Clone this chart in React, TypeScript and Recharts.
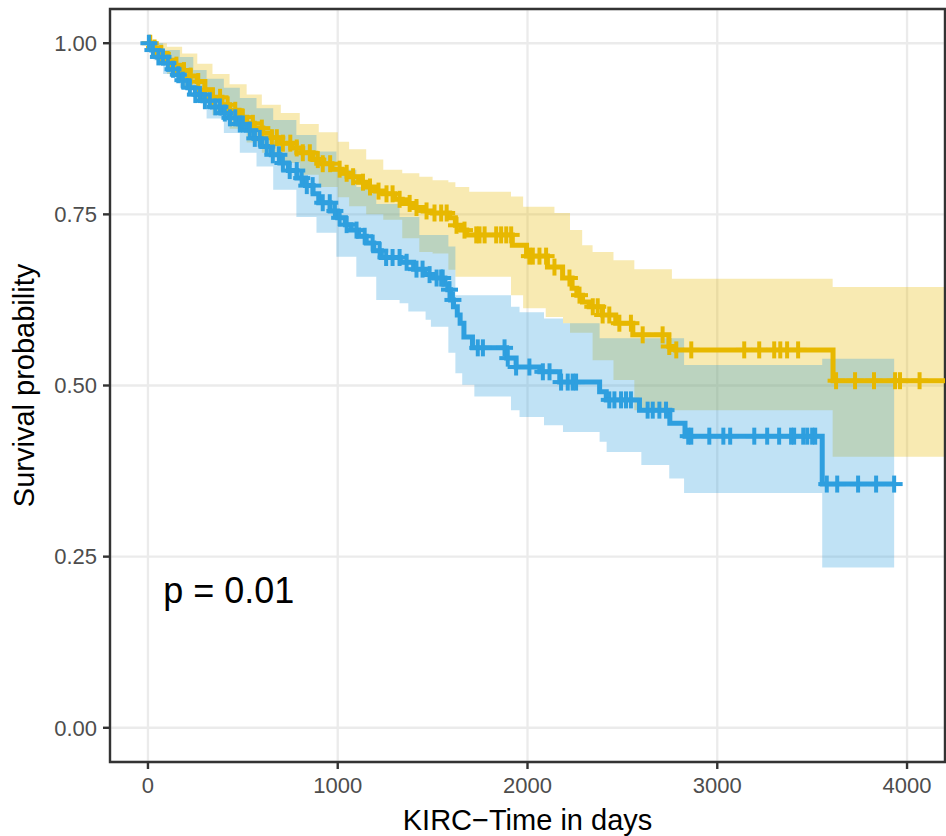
import React from 'react'
import {
  Area,
  CartesianGrid,
  ComposedChart,
  Line,
  ReferenceArea,
  Scatter,
  XAxis,
  YAxis,
} from 'recharts'

const FONT = '"Liberation Sans", Arial, Helvetica, sans-serif'
const GOLD = '#E7B800'
const BLUE = '#2E9FDF'

// Kaplan-Meier steps: [time, survival]
const goldCurve = [
  [0, 1.0], [25, 0.993], [60, 0.985], [100, 0.975], [140, 0.968], [180, 0.96],
  [220, 0.952], [260, 0.944], [300, 0.932], [340, 0.921], [390, 0.91], [430, 0.902],
  [480, 0.892], [520, 0.883], [560, 0.876], [605, 0.869], [650, 0.862], [700, 0.854],
  [760, 0.847], [810, 0.84], [870, 0.83], [920, 0.824], [970, 0.816], [1020, 0.81],
  [1060, 0.805], [1110, 0.797], [1150, 0.79], [1200, 0.784], [1240, 0.78], [1300, 0.772],
  [1340, 0.766], [1400, 0.76], [1450, 0.755], [1500, 0.752], [1590, 0.745], [1620, 0.734],
  [1650, 0.727], [1680, 0.72], [1920, 0.705], [1995, 0.689], [2105, 0.673], [2185, 0.657],
  [2235, 0.642], [2260, 0.632], [2290, 0.622], [2325, 0.615], [2395, 0.603], [2465, 0.591],
  [2555, 0.574], [2745, 0.557], [2780, 0.552], [3610, 0.507], [4200, 0.507],
]

const blueCurve = [
  [0, 1.0], [20, 0.99], [50, 0.98], [80, 0.971], [110, 0.962], [140, 0.954],
  [170, 0.946], [210, 0.935], [250, 0.925], [290, 0.916], [340, 0.907], [390, 0.898],
  [430, 0.891], [480, 0.882], [520, 0.873], [560, 0.861], [600, 0.849], [650, 0.837],
  [695, 0.825], [740, 0.814], [785, 0.803], [830, 0.792], [870, 0.78], [900, 0.767],
  [960, 0.755], [1000, 0.745], [1040, 0.735], [1070, 0.727], [1110, 0.718], [1150, 0.708],
  [1190, 0.697], [1230, 0.687], [1330, 0.68], [1400, 0.67], [1460, 0.662], [1510, 0.657],
  [1565, 0.648], [1580, 0.64], [1595, 0.625], [1610, 0.615], [1630, 0.603], [1645, 0.591],
  [1665, 0.571], [1710, 0.555], [1890, 0.54], [1940, 0.527], [2065, 0.52], [2170, 0.505],
  [2380, 0.491], [2415, 0.479], [2590, 0.464], [2750, 0.445], [2830, 0.426], [3553, 0.356],
  [3932, 0.356],
]

// confidence bands: [time, lower, upper]
const goldBand = [
  [0, 1, 1], [40, 0.975, 1.0], [100, 0.955, 0.995], [180, 0.935, 0.985], [260, 0.915, 0.97],
  [340, 0.895, 0.955], [430, 0.875, 0.94], [520, 0.855, 0.925], [600, 0.84, 0.91],
  [700, 0.825, 0.898], [800, 0.808, 0.882], [900, 0.79, 0.87], [1000, 0.775, 0.856],
  [1060, 0.762, 0.845], [1150, 0.75, 0.83], [1240, 0.742, 0.815], [1340, 0.715, 0.81],
  [1430, 0.695, 0.805], [1500, 0.693, 0.8], [1583, 0.669, 0.797], [1620, 0.659, 0.79],
  [1693, 0.659, 0.783], [1913, 0.632, 0.776], [1977, 0.613, 0.761], [2096, 0.6, 0.761],
  [2142, 0.6, 0.752], [2187, 0.591, 0.752], [2224, 0.577, 0.727], [2288, 0.577, 0.705],
  [2343, 0.537, 0.695], [2453, 0.508, 0.683], [2563, 0.464, 0.67], [2761, 0.464, 0.656],
  [3608, 0.396, 0.644], [4200, 0.396, 0.644],
]

const blueBand = [
  [0, 1, 1], [30, 0.975, 1.0], [80, 0.955, 0.99], [168, 0.935, 0.98], [239, 0.913, 0.961],
  [309, 0.89, 0.948], [400, 0.869, 0.935], [484, 0.84, 0.92], [572, 0.82, 0.905],
  [660, 0.786, 0.888], [782, 0.746, 0.866], [888, 0.723, 0.842], [993, 0.688, 0.815],
  [1098, 0.659, 0.79], [1203, 0.625, 0.765], [1326, 0.62, 0.746], [1372, 0.608, 0.746],
  [1430, 0.608, 0.72], [1463, 0.596, 0.72], [1491, 0.586, 0.72], [1583, 0.548, 0.703],
  [1620, 0.518, 0.632], [1656, 0.501, 0.632], [1720, 0.484, 0.632], [1913, 0.464, 0.615],
  [1958, 0.454, 0.607], [2087, 0.442, 0.598], [2187, 0.432, 0.591], [2380, 0.418, 0.569],
  [2417, 0.403, 0.569], [2600, 0.384, 0.569], [2747, 0.364, 0.569], [2825, 0.343, 0.53],
  [3553, 0.234, 0.539], [3932, 0.234, 0.539],
]

// censoring times
const goldCensor = [
  12, 35, 70, 110, 150, 190, 225, 265, 300, 340, 380, 420, 460, 500, 553, 600, 653, 679,
  711, 750, 784, 816, 853, 895, 921, 960, 1010, 1047, 1081, 1133, 1170, 1215, 1257, 1289,
  1326, 1379, 1415, 1468, 1510, 1545, 1574, 1626, 1668, 1730, 1747, 1774, 1835, 1861, 1888,
  1914, 2010, 2028, 2063, 2098, 2142, 2221, 2274, 2344, 2370, 2396, 2431, 2484, 2545, 2607,
  2712, 2747, 2784, 2863, 3142, 3221, 3300, 3332, 3368, 3426, 3626, 3726, 3826, 3937, 3963,
  4066,
]

const blueCensor = [
  5, 26, 55, 79, 105, 132, 160, 184, 221, 250, 274, 300, 326, 355, 379, 405, 432, 460, 484,
  500, 537, 563, 589, 626, 658, 690, 711, 747, 784, 810, 837, 868, 921, 958, 985, 1010,
  1047, 1099, 1142, 1184, 1221, 1255, 1289, 1326, 1363, 1415, 1447, 1484, 1521, 1545, 1553,
  1589, 1607, 1738, 1765, 1879, 1896, 1940, 2010, 2081, 2116, 2177, 2212, 2238, 2256, 2431,
  2458, 2493, 2519, 2545, 2633, 2660, 2695, 2730, 2847, 2863, 2958, 3032, 3068, 3195, 3263,
  3326, 3389, 3405, 3453, 3474, 3500, 3516, 3577, 3632, 3742, 3837, 3932,
]

const xTicks = [0, 1000, 2000, 3000, 4000]
const xMinor = [500, 1500, 2500, 3500]
const yTicks = [0, 0.25, 0.5, 0.75, 1]
const yMinor = [0.125, 0.375, 0.625, 0.875]
const pValue = 'p = 0.01'

const toLine = (rows: number[][]) => rows.map(([t, s]) => ({ t, s }))
const toBand = (rows: number[][]) => rows.map(([t, lo, hi]) => ({ t, range: [lo, hi] }))
const survAt = (rows: number[][], t: number) => {
  let s = rows[0][1]
  for (const [rt, rs] of rows) if (rt <= t) s = rs
  return s
}
const toCensor = (rows: number[][], times: number[]) => times.map((t) => ({ t, s: survAt(rows, t) }))

const plus = (color: string) => (props: any) => {
  const { cx, cy } = props
  return (
    <g stroke={color} strokeWidth={4}>
      <line x1={cx - 8.5} x2={cx + 8.5} y1={cy} y2={cy} />
      <line x1={cx} x2={cx} y1={cy - 8.5} y2={cy + 8.5} />
    </g>
  )
}

const pLabel = (props: any) => (
  <text x={props.cx} y={props.cy + 12.5} fontSize={36} fontFamily={FONT} fill="#000">
    {pValue}
  </text>
)

export default function App() {
  const tickStyle = { fill: '#4D4D4D', fontSize: 22, fontFamily: FONT }
  const tickLine = { stroke: '#333333', strokeWidth: 2.4 }
  return (
    <div style={{ position: 'absolute', left: 0, top: 0, width: 946, height: 836 }}>
      <ComposedChart width={946} height={836} margin={{ top: 9, right: 1, bottom: 0, left: 0 }}>
        <XAxis
          type="number"
          dataKey="t"
          domain={[-200, 4200]}
          ticks={xTicks}
          height={74}
          axisLine={false}
          tickLine={tickLine}
          tickSize={7}
          tickMargin={8}
          tick={tickStyle}
          label={{
            value: 'KIRC−Time in days',
            position: 'insideBottom',
            offset: 6,
            fill: '#000',
            fontSize: 29,
            fontFamily: FONT,
          }}
        />
        <YAxis
          type="number"
          domain={[-0.05, 1.05]}
          ticks={yTicks}
          width={110}
          axisLine={false}
          tickLine={tickLine}
          tickSize={7}
          tickMargin={6}
          tick={tickStyle}
          tickFormatter={(v: number) => v.toFixed(2)}
          label={{
            value: 'Survival probability',
            angle: -90,
            position: 'insideLeft',
            offset: 24,
            fill: '#000',
            fontSize: 29,
            fontFamily: FONT,
            style: { textAnchor: 'middle' },
          }}
        />
        <XAxis xAxisId="minor" type="number" dataKey="t" domain={[-200, 4200]} ticks={xMinor} hide />
        <YAxis yAxisId="minor" type="number" domain={[-0.05, 1.05]} ticks={yMinor} hide />
        <CartesianGrid xAxisId="minor" yAxisId="minor" stroke="#EBEBEB" strokeWidth={1.1} />
        <CartesianGrid stroke="#EBEBEB" strokeWidth={2.3} />

        <Area
          data={toBand(goldBand)}
          dataKey="range"
          type="stepAfter"
          fill={GOLD}
          fillOpacity={0.3}
          stroke="none"
          activeDot={false}
          isAnimationActive={false}
        />
        <Area
          data={toBand(blueBand)}
          dataKey="range"
          type="stepAfter"
          fill={BLUE}
          fillOpacity={0.3}
          stroke="none"
          activeDot={false}
          isAnimationActive={false}
        />
        <Line
          data={toLine(goldCurve)}
          dataKey="s"
          type="stepAfter"
          stroke={GOLD}
          strokeWidth={5}
          dot={false}
          activeDot={false}
          isAnimationActive={false}
        />
        <Line
          data={toLine(blueCurve)}
          dataKey="s"
          type="stepAfter"
          stroke={BLUE}
          strokeWidth={5}
          dot={false}
          activeDot={false}
          isAnimationActive={false}
        />
        <Scatter data={toCensor(goldCurve, goldCensor)} dataKey="s" shape={plus(GOLD)} isAnimationActive={false} />
        <Scatter data={toCensor(blueCurve, blueCensor)} dataKey="s" shape={plus(BLUE)} isAnimationActive={false} />
        <Scatter data={[{ t: 80, s: 0.2 }]} dataKey="s" shape={pLabel} isAnimationActive={false} />

        <ReferenceArea
          x1={-200}
          x2={4200}
          y1={-0.05}
          y2={1.05}
          fill="none"
          stroke="#333333"
          strokeWidth={2.4}
          ifOverflow="visible"
        />
      </ComposedChart>
    </div>
  )
}
